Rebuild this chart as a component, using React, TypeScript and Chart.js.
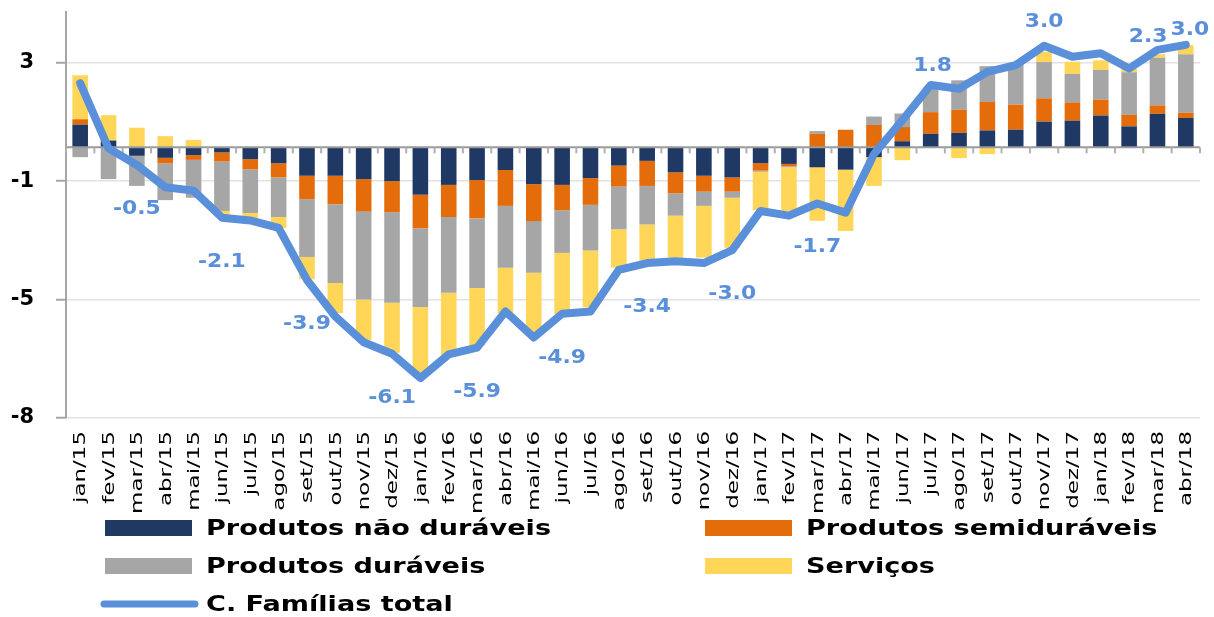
import React, { useEffect, useRef } from 'react';
import { Chart, registerables } from 'chart.js';

Chart.register(...registerables);

const months = [
  'jan/15', 'fev/15', 'mar/15', 'abr/15', 'mai/15', 'jun/15', 'jul/15', 'ago/15', 'set/15', 'out/15', 'nov/15', 'dez/15',
  'jan/16', 'fev/16', 'mar/16', 'abr/16', 'mai/16', 'jun/16', 'jul/16', 'ago/16', 'set/16', 'out/16', 'nov/16', 'dez/16',
  'jan/17', 'fev/17', 'mar/17', 'abr/17', 'mai/17', 'jun/17', 'jul/17', 'ago/17', 'set/17', 'out/17', 'nov/17', 'dez/17',
  'jan/18', 'fev/18', 'mar/18', 'abr/18',
];

const naoDuraveis = [
  0.67, 0.2, -0.25, -0.31, -0.23, -0.15, -0.35, -0.47, -0.84, -0.84, -0.94, -1.0,
  -1.4, -1.11, -0.97, -0.67, -1.09, -1.11, -0.91, -0.54, -0.4, -0.74, -0.84, -0.89,
  -0.47, -0.49, -0.59, -0.66, -0.29, 0.18, 0.4, 0.43, 0.5, 0.52, 0.76, 0.79,
  0.94, 0.62, 0.99, 0.87,
];

const semiduraveis = [
  0.16, 0.0, 0.0, -0.16, -0.14, -0.27, -0.3, -0.42, -0.69, -0.84, -0.96, -0.92,
  -0.99, -0.95, -1.13, -1.06, -1.09, -0.75, -0.79, -0.62, -0.74, -0.62, -0.47, -0.42,
  -0.22, -0.07, 0.4, 0.52, 0.66, 0.42, 0.64, 0.68, 0.84, 0.74, 0.69, 0.54,
  0.47, 0.34, 0.25, 0.15,
];

const duraveis = [
  -0.29, -0.94, -0.89, -1.09, -1.12, -1.46, -1.29, -1.17, -1.71, -2.33, -2.6, -2.67,
  -2.33, -2.24, -2.06, -1.83, -1.53, -1.26, -1.35, -1.26, -1.14, -0.66, -0.42, -0.18,
  -0.03, -0.03, 0.08, 0.0, 0.25, 0.4, 0.72, 0.87, 1.06, 1.21, 1.07, 0.84,
  0.88, 1.26, 1.41, 1.73,
];

const servicos = [
  1.3, 0.75, 0.58, 0.33, 0.22, -0.12, -0.15, -0.32, -0.66, -0.89, -1.19, -1.48,
  -2.0, -1.83, -1.7, -1.34, -1.83, -1.81, -1.68, -1.14, -1.07, -1.24, -1.53, -1.48,
  -1.14, -1.29, -1.58, -1.81, -0.85, -0.38, 0.0, -0.32, -0.2, 0.0, 0.3, 0.36,
  0.28, 0.1, 0.1, 0.27,
];

const familiasTotal = [
  1.9, -0.03, -0.52, -1.18, -1.28, -2.08, -2.16, -2.38, -3.92, -5.0, -5.76, -6.1,
  -6.82, -6.12, -5.92, -4.85, -5.62, -4.92, -4.85, -3.62, -3.42, -3.37, -3.42, -3.04,
  -1.88, -2.02, -1.66, -1.93, -0.2, 0.8, 1.84, 1.73, 2.23, 2.43, 3.0, 2.68,
  2.78, 2.33, 2.88, 3.03,
];

const labeledMonths = [
  'mar/15', 'jun/15', 'set/15', 'dez/15', 'mar/16', 'jun/16', 'set/16', 'dez/16',
  'mar/17', 'jul/17', 'nov/17', 'fev/18', 'abr/18',
];

const yTickValues = [-8, -4.5, -1, 2.5];

const seriesNames = ['Produtos não duráveis', 'Produtos semiduráveis', 'Produtos duráveis', 'Serviços', 'C. Famílias total'];

const COLORS = {
  navy: '#1F3864',
  orange: '#E46C0A',
  gray: '#A6A6A6',
  yellow: '#FFD657',
  line: '#5A8FDA',
};

const FONT = "'DejaVu Sans', 'Open Sans', sans-serif";

function drawStretched(ctx: CanvasRenderingContext2D, text: string, x: number, y: number, sx: number) {
  ctx.save();
  ctx.translate(x, y);
  ctx.scale(sx, 1);
  ctx.fillText(text, 0, 0);
  ctx.restore();
}

const zeroLinePlugin = {
  id: 'zeroLine',
  afterDatasetDraw(chart: any, args: any) {
    if (args.index !== 0) return;
    const { ctx, chartArea, scales } = chart;
    const y = scales.y.getPixelForValue(0);
    ctx.save();
    ctx.strokeStyle = '#9a9a9a';
    ctx.lineWidth = 2;
    ctx.beginPath();
    ctx.moveTo(chartArea.left, y);
    ctx.lineTo(chartArea.right, y);
    ctx.stroke();
    ctx.strokeStyle = '#b0b0b0';
    const n = chart.data.labels.length;
    for (let i = 0; i <= n; i++) {
      const px = scales.x.getPixelForValue(i - 0.5);
      ctx.beginPath();
      ctx.moveTo(px, y);
      ctx.lineTo(px, y + 6);
      ctx.stroke();
    }
    ctx.restore();
  },
};

const xLabelsPlugin = {
  id: 'xLabels',
  afterDraw(chart: any) {
    const { ctx, scales } = chart;
    ctx.save();
    ctx.fillStyle = '#000';
    ctx.font = `16.5px ${FONT}`;
    const sx = 72 / ctx.measureText('jan/15').width;
    ctx.textAlign = 'right';
    ctx.textBaseline = 'middle';
    chart.data.labels.forEach((lab: string, i: number) => {
      const px = scales.x.getPixelForValue(i);
      ctx.save();
      ctx.translate(px + 1, 431);
      ctx.rotate(-Math.PI / 2);
      ctx.scale(sx, 1);
      ctx.fillText(lab, 0, 0);
      ctx.restore();
    });
    ctx.restore();
  },
};

const dataLabelNudge: Record<string, [number, number]> = {
  'jul/17': [2, -19],
  'nov/17': [0, -24],
  'fev/18': [19, -31],
  'abr/18': [4, -15],
};

const dataLabelsPlugin = {
  id: 'dataLabels',
  afterDraw(chart: any) {
    const { ctx, scales } = chart;
    ctx.save();
    ctx.fillStyle = COLORS.line;
    ctx.font = `bold 19px ${FONT}`;
    ctx.textAlign = 'center';
    ctx.textBaseline = 'middle';
    labeledMonths.forEach((m) => {
      const i = months.indexOf(m);
      const v = familiasTotal[i];
      const px = scales.x.getPixelForValue(i);
      const py = scales.y.getPixelForValue(v);
      const [dx, dy] = dataLabelNudge[m] || [0, v < 0 ? 44 : -22];
      drawStretched(ctx, v.toFixed(1), px + dx, py + dy, 1.15);
    });
    ctx.restore();
  },
};

const legendPlugin = {
  id: 'customLegend',
  afterDraw(chart: any) {
    const { ctx } = chart;
    const ds = chart.data.datasets;
    const cols = [105, 705];
    const rows = [528, 566, 604];
    const order = [0, 1, 2, 3, 4];
    ctx.save();
    ctx.font = `bold 22px ${FONT}`;
    const sx = 345 / ctx.measureText(seriesNames[0]).width;
    ctx.textAlign = 'left';
    ctx.textBaseline = 'middle';
    order.forEach((di, k) => {
      const d = ds[di];
      const x = cols[k % 2];
      const y = rows[Math.floor(k / 2)];
      if (d.type === 'line') {
        ctx.strokeStyle = d.borderColor;
        ctx.lineWidth = 7;
        ctx.lineCap = 'round';
        ctx.beginPath();
        ctx.moveTo(x - 1, y);
        ctx.lineTo(x + 90, y);
        ctx.stroke();
      } else {
        ctx.fillStyle = d.backgroundColor;
        ctx.fillRect(x, y - 8, 87, 16);
      }
      ctx.fillStyle = '#000';
      drawStretched(ctx, d.label, x + 101, y + 1, sx);
    });
    ctx.restore();
  },
};

export default function App() {
  const canvasRef = useRef<HTMLCanvasElement | null>(null);

  useEffect(() => {
    const canvas = canvasRef.current;
    if (!canvas) return;
    const barCommon = {
      type: 'bar' as const,
      barPercentage: 0.55,
      categoryPercentage: 1,
      order: 1,
      stack: 'contrib',
    };
    const chart = new Chart(canvas, {
      type: 'bar',
      data: {
        labels: months,
        datasets: [
          { ...barCommon, label: seriesNames[0], data: naoDuraveis, backgroundColor: COLORS.navy },
          { ...barCommon, label: seriesNames[1], data: semiduraveis, backgroundColor: COLORS.orange },
          { ...barCommon, label: seriesNames[2], data: duraveis, backgroundColor: COLORS.gray },
          { ...barCommon, label: seriesNames[3], data: servicos, backgroundColor: COLORS.yellow },
          {
            type: 'line' as const,
            label: seriesNames[4],
            data: familiasTotal,
            borderColor: COLORS.line,
            backgroundColor: COLORS.line,
            borderWidth: 8,
            pointRadius: 0,
            tension: 0,
            borderJoinStyle: 'round',
            borderCapStyle: 'round',
            order: 0,
            stack: 'total',
          } as any,
        ],
      },
      options: {
        responsive: false,
        animation: false,
        layout: { padding: { left: 0, right: 14, top: 12, bottom: 0 } },
        plugins: {
          legend: { display: false },
          tooltip: { enabled: false },
        },
        scales: {
          x: {
            type: 'category',
            stacked: true,
            offset: true,
            grid: { display: false },
            border: { display: false },
            ticks: { display: false },
            afterFit: (scale: any) => {
              scale.height = 617 - 418;
              scale.paddingLeft = 0;
              scale.paddingRight = 0;
            },
          },
          y: {
            type: 'linear',
            stacked: true,
            min: -8,
            max: 4,
            afterBuildTicks: (scale: any) => {
              scale.ticks = yTickValues.map((v) => ({ value: v }));
            },
            afterFit: (scale: any) => {
              scale.width = 66;
              scale.paddingTop = 0;
              scale.paddingBottom = 0;
            },
            grid: {
              color: '#e2e2e2',
              lineWidth: 1.5,
              tickColor: '#a6a6a6',
              tickLength: 10,
              tickWidth: 2,
            },
            border: { color: '#a6a6a6', width: 2 },
            ticks: {
              padding: 22,
              color: '#000',
              font: { family: FONT, size: 21, weight: 'bold' },
              callback: (v: any) => String(Math.sign(v) * Math.round(Math.abs(v))),
            },
          },
        },
      },
      plugins: [zeroLinePlugin, dataLabelsPlugin, xLabelsPlugin, legendPlugin],
    });
    return () => chart.destroy();
  }, []);

  return (
    <div style={{ position: 'absolute', left: 0, top: 0, width: 1214, height: 617, background: '#fff' }}>
      <canvas ref={canvasRef} width={1214} height={617} style={{ display: 'block' }} />
    </div>
  );
}
